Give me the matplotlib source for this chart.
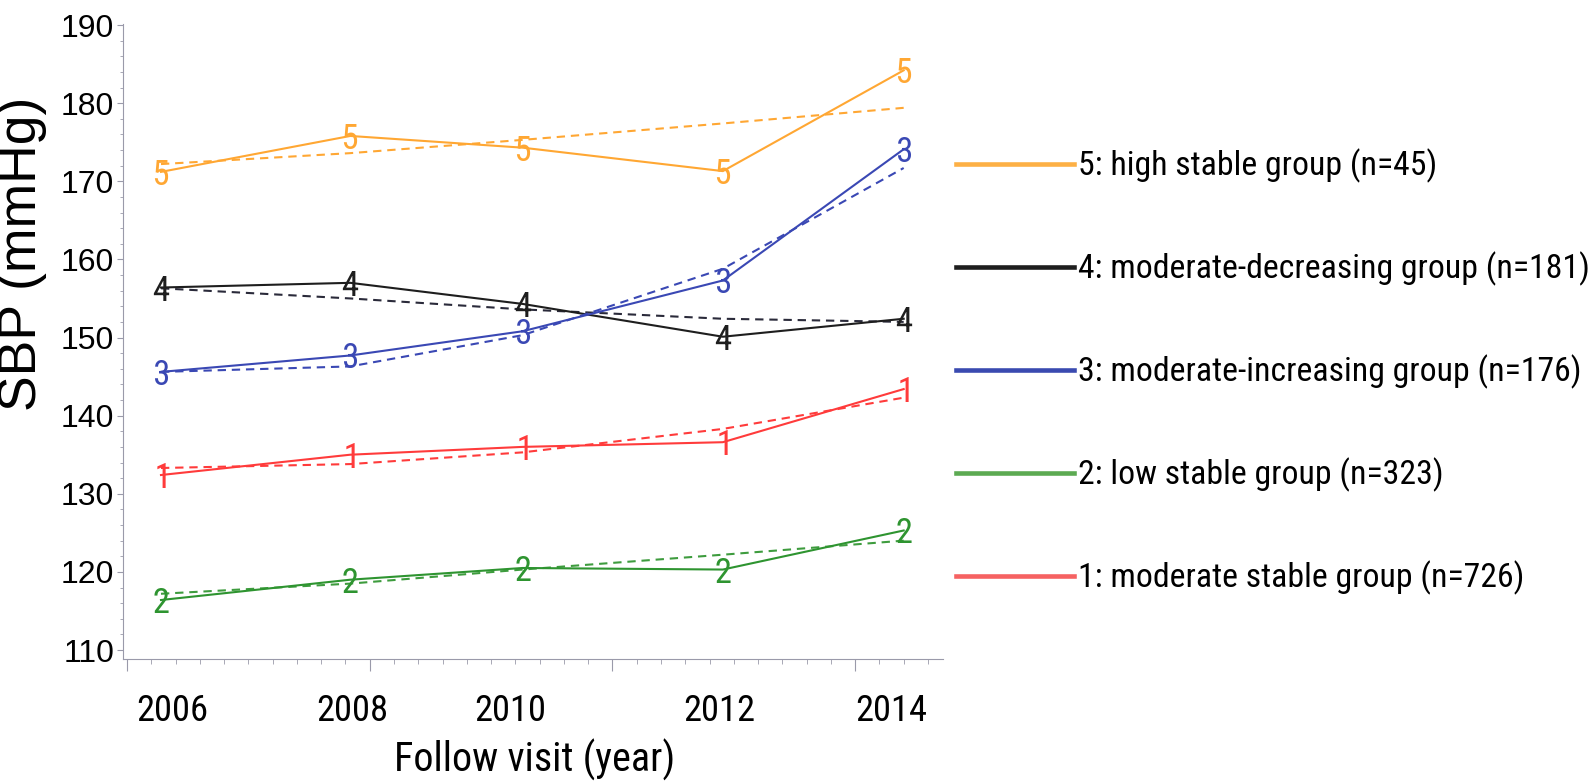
import matplotlib
matplotlib.use("Agg")
import matplotlib.pyplot as plt
from matplotlib.lines import Line2D
from matplotlib.ticker import MultipleLocator, FixedLocator
from matplotlib.textpath import TextPath
from matplotlib.font_manager import FontProperties
from matplotlib.transforms import Affine2D

NARROW = ['Liberation Sans Narrow', 'Arial Narrow', 'Roboto Condensed',
          'Archivo Narrow', 'DejaVu Sans']
REGULAR = ['Liberation Sans', 'DejaVu Sans']

# follow-up time of each visit (axis units, 10 per major tick)
visit_x = [1.4, 9.2, 16.3, 24.55, 32.0]
year_pos = [1.85, 9.3, 15.8, 24.4, 31.5]
year_labels = ['2006', '2008', '2010', '2012', '2014']

groups = ['5', '4', '3', '2', '1']
group_labels = ['5: high stable group (n=45)',
                '4: moderate-decreasing group (n=181)',
                '3: moderate-increasing group (n=176)',
                '2: low stable group (n=323)',
                '1: moderate stable group (n=726)']

# observed mean SBP per visit
sbp_5 = [171.2, 175.8, 174.3, 171.3, 184.2]
sbp_4 = [156.4, 157.0, 154.3, 150.1, 152.4]
sbp_3 = [145.6, 147.7, 150.8, 157.3, 174.1]
sbp_2 = [116.4, 119.0, 120.5, 120.3, 125.3]
sbp_1 = [132.4, 135.0, 136.0, 136.6, 143.4]

# fitted trajectories (dashed)
fit_5 = [172.2, 173.6, 175.3, 177.4, 179.4]
fit_4 = [156.3, 155.0, 153.6, 152.4, 152.0]
fit_3 = [145.6, 146.3, 150.3, 158.8, 171.7]
fit_2 = [117.2, 118.5, 120.3, 122.2, 124.0]
fit_1 = [133.3, 133.8, 135.3, 138.3, 142.3]

observed = [sbp_5, sbp_4, sbp_3, sbp_2, sbp_1]
fitted = [fit_5, fit_4, fit_3, fit_2, fit_1]
line_colors = ['#FFA733', '#1E1E1E', '#3A48B4', '#2E9430', '#FF3B3B']
fit_colors = ['#FFA733', '#2A2A3A', '#3A48B4', '#3E9C3E', '#FF3B3B']
legend_colors = ['#FDB045', '#1E1E1E', '#3A4AB0', '#5CAA52', '#F66262']

fig = plt.figure(figsize=(15.95, 7.82), dpi=100)
renderer = fig.canvas.get_renderer()
px = 72 / fig.dpi  # points per pixel


def measure(s, family, size):
    t = fig.text(0, 0, s, family=family, fontsize=size)
    bb = t.get_window_extent(renderer)
    t.remove()
    return bb.width, bb.height


def fit_size(s, family, target_w, start=20):
    w, _ = measure(s, family, start)
    return start * target_w / w


def digit_marker(d):
    fp = FontProperties(family=['Roboto Condensed', 'DejaVu Sans'])
    tp = TextPath((0, 0), d, prop=fp)
    e = tp.get_extents()
    return tp.transformed(Affine2D().translate(-(e.x0 + e.x1) / 2, -(e.y0 + e.y1) / 2))


ax = fig.add_axes([123 / 1595, 123 / 782, 820 / 1595, 635 / 782])

for g, obs, fit, c, fc in zip(groups, observed, fitted, line_colors, fit_colors):
    ax.plot(visit_x, fit, color=fc, lw=1.5, linestyle=(0, (4, 2.8)))
    ax.plot(visit_x, obs, color=c, lw=1.5, marker=digit_marker(g),
            markersize=18, markeredgewidth=0, markerfacecolor=c)

ax.set_xlim(-0.165, 33.62)
ax.set_ylim(108.85, 190.13)

axis_grey = '#9a9aaa'
for s in ['top', 'right']:
    ax.spines[s].set_visible(False)
for s in ['left', 'bottom']:
    ax.spines[s].set_color(axis_grey)

ax.xaxis.set_major_locator(FixedLocator([0, 10, 20, 30]))
ax.xaxis.set_minor_locator(MultipleLocator(1))
ax.tick_params(axis='x', which='major', length=8.6, color=axis_grey, labelbottom=False)
ax.tick_params(axis='x', which='minor', length=3.6, color=axis_grey)

ax.yaxis.set_major_locator(MultipleLocator(10))
ax.yaxis.set_minor_locator(MultipleLocator(2))
ax.tick_params(axis='y', which='major', length=4.3, color=axis_grey, pad=2)
ax.tick_params(axis='y', which='minor', length=2.2, color=axis_grey)
for lab in ax.get_yticklabels():
    lab.set_family(REGULAR)
    lab.set_fontsize(23)

tick_size = fit_size('2006', NARROW, 72)
for pos, lab in zip(year_pos, year_labels):
    ax.annotate(lab, xy=(pos, 0), xycoords=('data', 'axes fraction'),
                xytext=(0, -52 * px), textcoords='offset points',
                ha='center', va='center', fontsize=tick_size, family=NARROW)

xlab_size = fit_size('Follow visit (year)', NARROW, 280)
fig.text(535 / 1595, 1 - 760 / 782, 'Follow visit (year)', ha='center', va='center',
         fontsize=xlab_size, family=NARROW)
fig.text(22 / 1595, 1 - 254 / 782, 'SBP (mmHg)', ha='center', va='center',
         rotation=90, fontsize=38.5, family=REGULAR)

# legend: rows ~103 px apart, first row centred at y=166 px
leg_size = fit_size(group_labels[1], NARROW, 510)
leg_px = leg_size / px
_, row_h = measure(group_labels[1], NARROW, leg_size)
handles = [Line2D([0], [0], color=c, lw=3.3) for c in legend_colors]
fig.legend(handles, group_labels, loc='upper left',
           bbox_to_anchor=(956 / 1595, 1 - (166 - row_h / 2) / 782), frameon=False,
           prop={'family': NARROW, 'size': leg_size}, handlelength=118 / leg_px,
           handletextpad=4 / leg_px, labelspacing=(103 - row_h) / leg_px,
           borderpad=0, borderaxespad=0)

fig.savefig('out.png', dpi=100)
